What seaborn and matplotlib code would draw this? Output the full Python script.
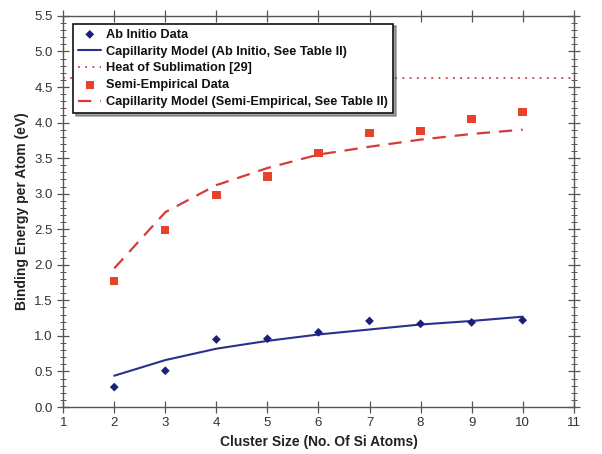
import seaborn as sns
import matplotlib.pyplot as plt
import pandas as pd
from matplotlib.ticker import MultipleLocator

# values
cluster_size = [2, 3, 4, 5, 6, 7, 8, 9, 10]
ab_initio_data = [0.28, 0.51, 0.95, 0.96, 1.05, 1.21, 1.17, 1.19, 1.22]
ab_initio_model = [0.44, 0.66, 0.82, 0.93, 1.02, 1.09, 1.16, 1.21, 1.27]
semi_emp_data = [1.77, 2.49, 2.98, 3.24, 3.57, 3.85, 3.88, 4.05, 4.15]
semi_emp_model = [1.95, 2.74, 3.12, 3.36, 3.55, 3.66, 3.76, 3.84, 3.90]
heat_sublimation = 4.63
x_span = [1, 11]

df = pd.DataFrame({"n": cluster_size, "ab": ab_initio_data, "ab_fit": ab_initio_model,
                   "se": semi_emp_data, "se_fit": semi_emp_model})

sns.set_style("ticks")
plt.rcParams['font.family'] = ['Liberation Sans', 'DejaVu Sans']

fig = plt.figure(figsize=(6.02, 4.54), dpi=100)
ax = fig.add_axes([0.105, 0.1035, 0.848, 0.8615])

sns.scatterplot(data=df, x="n", y="ab", marker="D", s=20, color="#1c1f7a",
                edgecolor="none", ax=ax, label="Ab Initio Data", zorder=3)
sns.lineplot(data=df, x="n", y="ab_fit", color="#2b3090", lw=1.5, ax=ax,
             label="Capillarity Model (Ab Initio, See Table II)")
sns.lineplot(x=x_span, y=[heat_sublimation] * 2, color="#c8403a", lw=1.3,
             linestyle=(0, (1, 3)), ax=ax, label="Heat of Sublimation [29]")
sns.scatterplot(data=df, x="n", y="se", marker="s", s=36, color="#e8422c",
                edgecolor="none", ax=ax, label="Semi-Empirical Data", zorder=3)
sns.lineplot(data=df, x="n", y="se_fit", color="#d8393a", lw=1.6,
             linestyle=(0, (6, 4)), ax=ax,
             label="Capillarity Model (Semi-Empirical, See Table II)")

ax.set_xlim(1, 11)
ax.set_ylim(0, 5.5)
ax.xaxis.set_major_locator(MultipleLocator(1))
ax.yaxis.set_major_locator(MultipleLocator(0.5))
ax.yaxis.set_minor_locator(MultipleLocator(0.1))
ax.yaxis.set_major_formatter(plt.FormatStrFormatter('%.1f'))
ax.tick_params(which="major", direction="inout", length=8, width=0.9,
               top=True, right=True, labelsize=9.5, labelcolor="#333333", color="#555555")
ax.tick_params(which="minor", direction="inout", length=4, width=0.7,
               right=True, color="#555555")
for sp in ax.spines.values():
    sp.set_color("#555555")
    sp.set_linewidth(1.0)

ax.set_xlabel("Cluster Size (No. Of Si Atoms)", fontsize=10, fontweight="bold", color="#222222")
ax.set_ylabel("Binding Energy per Atom (eV)", fontsize=10, fontweight="bold", color="#222222")

leg = ax.legend(loc="upper left", bbox_to_anchor=(0.012, 0.99), frameon=True,
                fancybox=False, shadow=True, fontsize=9.2, handlelength=1.8,
                handletextpad=0.35, labelspacing=0.38, borderpad=0.4, borderaxespad=0.3)
leg.get_frame().set_edgecolor("#111111")
leg.get_frame().set_linewidth(1.2)
for t in leg.get_texts():
    t.set_fontweight("bold")
    t.set_color("#111111")

fig.savefig("out.png", dpi=100)
